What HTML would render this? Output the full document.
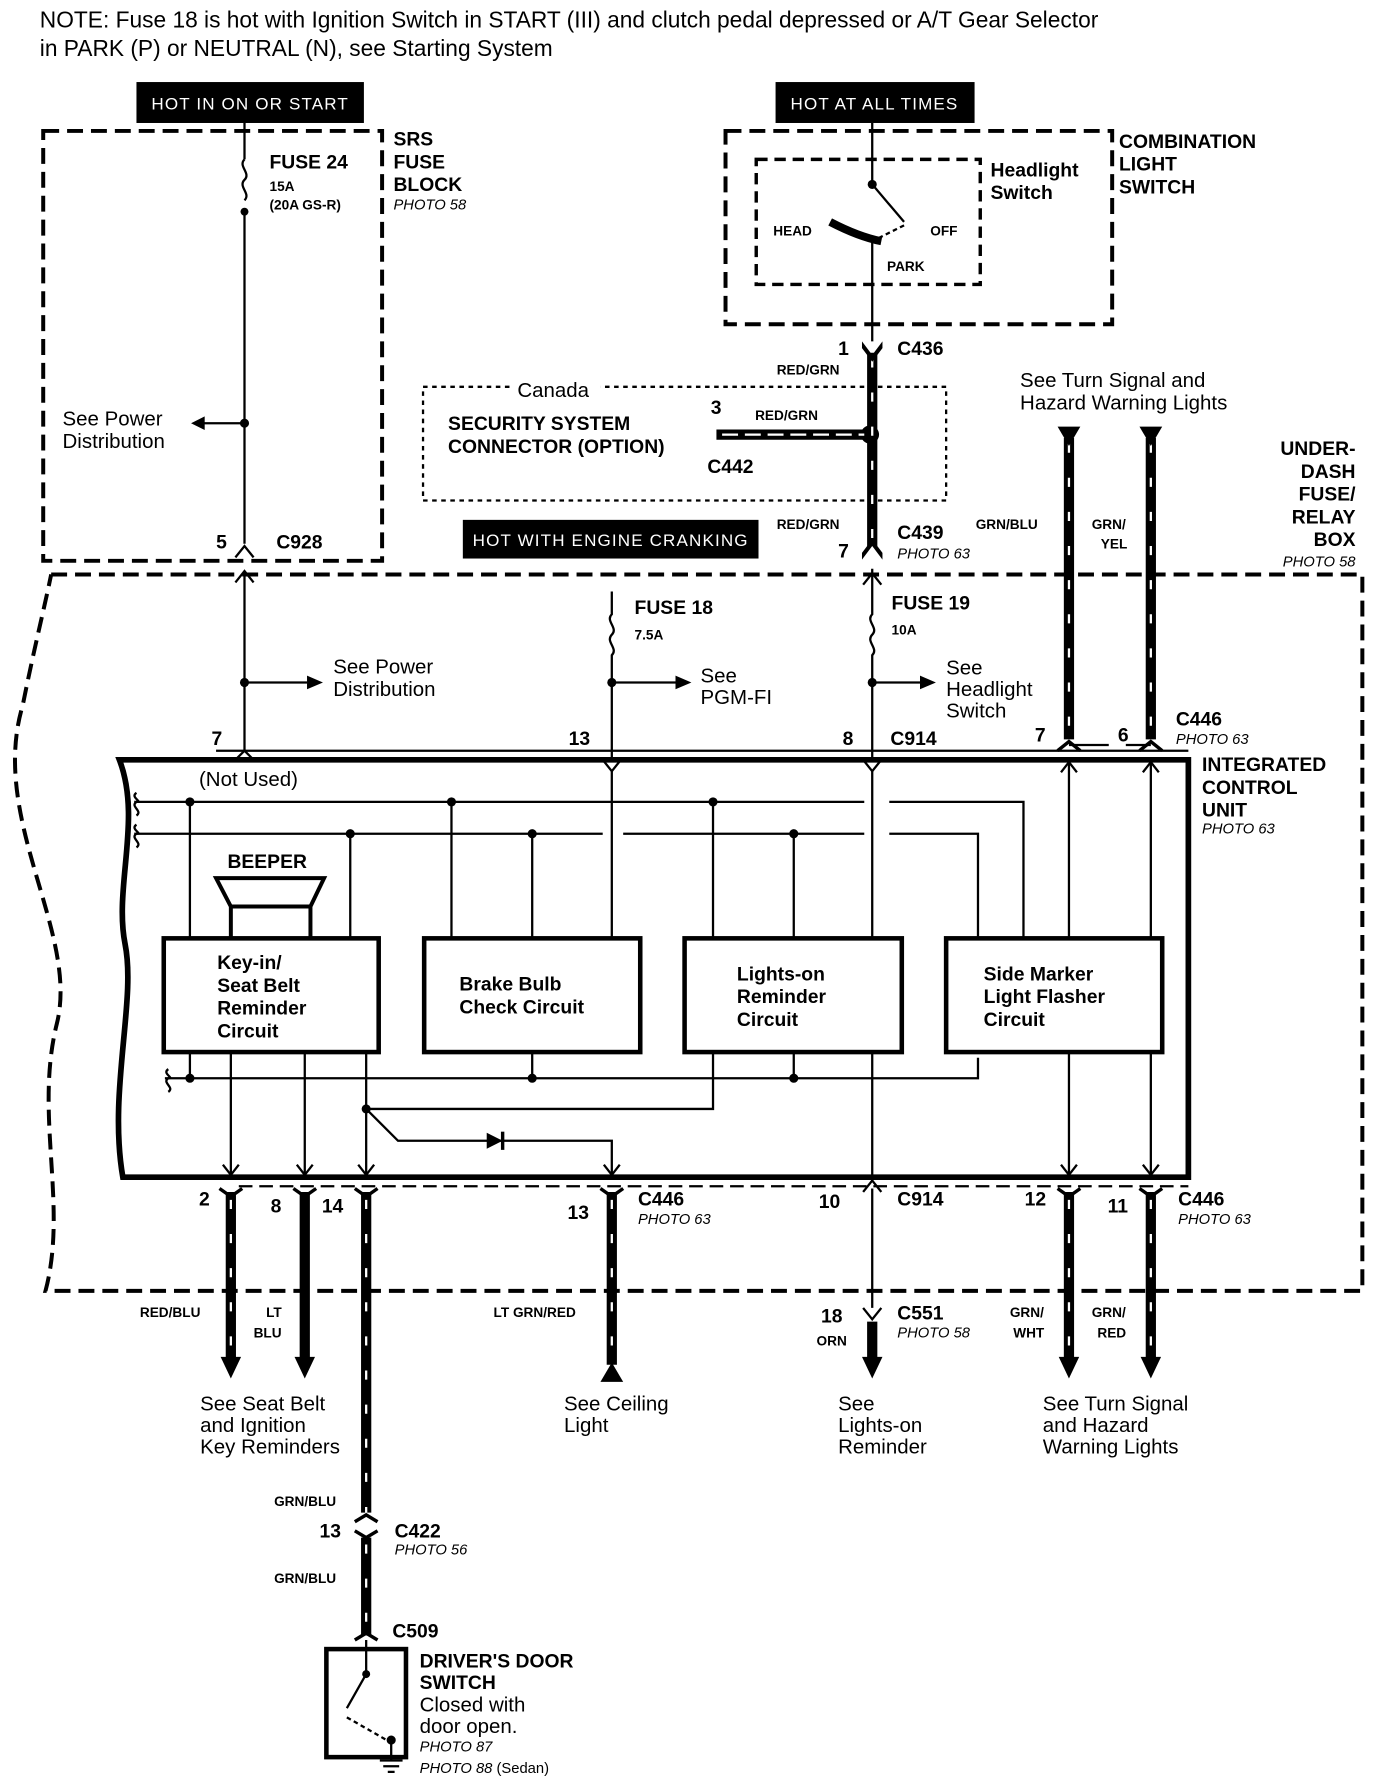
<!DOCTYPE html>
<html><head><meta charset="utf-8"><style>
html,body{margin:0;padding:0;background:#fff}
svg{display:block}
text{font-family:"Liberation Sans",Arial,sans-serif;fill:#000}
.b{font-weight:bold}
.i{font-style:italic}
</style></head><body>
<svg width="1376" height="1788" viewBox="0 0 1210 1572" xmlns="http://www.w3.org/2000/svg">
<g font-size="20">
<text x="35" y="24">NOTE: Fuse 18 is hot with Ignition Switch in START (III) and clutch pedal depressed or A/T Gear Selector</text>
<text x="35" y="49">in PARK (P) or NEUTRAL (N), see Starting System</text>
</g>
<!-- black labels -->
<rect x="120" y="72" width="200" height="36" fill="#000"/>
<text x="220" y="96" font-size="15" text-anchor="middle" style="fill:#fff;letter-spacing:1px">HOT IN ON OR START</text>
<rect x="682" y="72" width="175" height="36" fill="#000"/>
<text x="769" y="96" font-size="15" text-anchor="middle" style="fill:#fff;letter-spacing:1px">HOT AT ALL TIMES</text>
<rect x="407" y="457" width="260" height="34" fill="#000"/>
<text x="537" y="480" font-size="15" text-anchor="middle" style="fill:#fff;letter-spacing:1px">HOT WITH ENGINE CRANKING</text>

<g fill="none" stroke="#000">
<rect x="38" y="115" width="298" height="378" stroke-width="3.5" stroke-dasharray="14,7"/>
<rect x="638" y="115" width="340" height="170" stroke-width="3.5" stroke-dasharray="14,7"/>
<rect x="665" y="140" width="197" height="110" stroke-width="3" stroke-dasharray="10,6"/>
<rect x="372" y="340" width="460" height="100" stroke-width="2" stroke-dasharray="4,4"/>
<path d="M45,505 L1198,505 L1198,1135 L40,1135 C60,1060 30,980 50,900 C70,820 -10,720 20,620 C30,570 40,530 45,505" stroke-width="3.5" stroke-dasharray="14,7"/>
<path d="M1045,668 L105,668 C125,720 100,780 110,830 C120,880 95,960 108,1035 L1045,1035 Z" stroke-width="5"/>
<rect x="144" y="825" width="189" height="100" stroke-width="4"/>
<rect x="373" y="825" width="190" height="100" stroke-width="4"/>
<rect x="602" y="825" width="191" height="100" stroke-width="4"/>
<rect x="832" y="825" width="190" height="100" stroke-width="4"/>
<path d="M190,772 L285,772 L273,797 L203,797 Z M203,797 L203,825 M273,797 L273,825 M203,797 L273,797" stroke-width="3.5"/>
</g>
<rect x="450" y="334" width="78" height="14" fill="#fff"/>

<g fill="none" stroke="#000" stroke-width="2">
<path d="M215,108 V140"/>
<path d="M215,140 c-6,6 6,12 0,18 c-6,6 6,12 0,18" />
<path d="M215,186 V478"/>
<path d="M215,372 H178"/>
<path d="M207,490 L215,480 L223,490"/>
<path d="M767,108 V162 L795,195"/>
<path d="M795,198 L767,212" stroke-dasharray="4,3"/>
<path d="M767,212 V300"/>
<path d="M215,502 V660"/>
<path d="M207,512 L215,502 L223,512"/>
<path d="M215,600 H270"/>
<path d="M190,660 H1045"/>
<path d="M538,520 V540 c-6,6 6,12 0,18 c-6,6 6,12 0,18 V668"/>
<path d="M538,600 H596"/>
<path d="M767,500 V540 c-6,6 6,12 0,18 c-6,6 6,12 0,18 V668"/>
<path d="M767,600 H813"/>
<path d="M759,514 L767,504 L775,514"/>
<path d="M207,668 L215,660 L223,668 M530,668 L538,678 L546,668 M759,668 L767,678 L775,668"/>
<path d="M118,705 H760 M782,705 H900 V825"/>
<path d="M118,733 H530 M548,733 H760 M782,733 H860 V825"/>
<path d="M145,948 H860 V930"/>
<path d="M167,705 V825 M308,733 V825 M397,705 V825 M468,733 V825 M538,678 V825 M627,705 V825 M698,733 V825 M767,678 V825"/>
<path d="M167,925 V948 M468,925 V948 M698,925 V948"/>
<path d="M120,697 c-6,4 6,8 0,8 c-6,4 6,8 0,12 M120,725 c-6,4 6,8 0,8 c-6,4 6,8 0,12 M148,940 c-6,4 6,8 0,8 c-6,4 6,8 0,12"/>
<path d="M203,925 V1033 M268,925 V1033 M322,925 V1033"/>
<path d="M322,975 H627 V925"/>
<path d="M322,975 L350,1003 H538 V1033"/>
<path d="M767,925 V1038 M767,1045 V1150"/>
<path d="M759,1048 L767,1038 L775,1048 M759,1150 L767,1160 L775,1150"/>
<path d="M940,925 V1033 M1012,925 V1033"/>
<path d="M940,825 V670 M1012,825 V670"/>
<path d="M940,655 H975 M990,655 H1012"/>
<!-- chevrons down -->
<path d="M196,1024 L203,1033 L210,1024 M261,1024 L268,1033 L275,1024 M315,1024 L322,1033 L329,1024 M531,1024 L538,1033 L545,1024 M933,1024 L940,1033 L947,1024 M1005,1024 L1012,1033 L1019,1024"/>
<!-- chevrons up -->
<path d="M933,679 L940,670 L947,679 M1005,679 L1012,670 L1019,679"/>
</g>
<!-- arrowheads -->
<g fill="#000">
<path d="M168,372 L180,366 L180,378Z"/>
<path d="M284,600 L270,594 L270,606Z"/>
<path d="M608,600 L594,594 L594,606Z"/>
<path d="M823,600 L809,594 L809,606Z"/>
</g>
<path d="M428,996 L442,1003 L428,1010 Z" fill="#000"/>
<path d="M442,995 V1011" stroke="#000" stroke-width="3"/>
<path d="M730,195 Q755,208 775,212" stroke="#000" stroke-width="7" fill="none"/>
<g fill="#000">
<circle cx="215" cy="186" r="3.5"/><circle cx="215" cy="372" r="4"/><circle cx="215" cy="600" r="4"/>
<circle cx="538" cy="600" r="4"/><circle cx="767" cy="600" r="4"/><circle cx="767" cy="162" r="4"/>
<circle cx="167" cy="705" r="4"/><circle cx="397" cy="705" r="4"/><circle cx="627" cy="705" r="4"/>
<circle cx="308" cy="733" r="4"/><circle cx="468" cy="733" r="4"/><circle cx="698" cy="733" r="4"/>
<circle cx="167" cy="948" r="4"/><circle cx="468" cy="948" r="4"/><circle cx="698" cy="948" r="4"/>
<circle cx="322" cy="975" r="4"/><circle cx="765" cy="382" r="8"/>
</g>
<g stroke="#000" stroke-width="9" fill="none">
<path d="M767,310 V480"/><path d="M630,382 H760"/>
<path d="M940,385 V650"/><path d="M1012,385 V650"/>
<path d="M203,1048 V1195"/><path d="M268,1048 V1195"/><path d="M322,1048 V1330"/><path d="M322,1352 V1438"/>
<path d="M538,1048 V1200"/><path d="M767,1162 V1195"/><path d="M940,1048 V1195"/><path d="M1012,1048 V1195"/>
</g>
<g stroke="#fff" stroke-width="2" fill="none" stroke-dasharray="8,22">
<path d="M767,315 V480"/><path d="M635,382 H760" stroke-dasharray="14,6"/>
<path d="M940,390 V650"/><path d="M1012,390 V650"/>
<path d="M203,1055 V1190"/><path d="M322,1055 V1330"/><path d="M322,1358 V1438"/>
<path d="M538,1055 V1195"/><path d="M940,1055 V1190"/><path d="M1012,1055 V1190"/>
</g>
<g fill="#000">
<path d="M758,300 L767,312 L776,300 L776,306 L767,318 L758,306Z"/>
<path d="M758,492 L767,480 L776,492 L776,486 L767,474 L758,486Z"/>
<path d="M930,375 L950,375 L940,392Z"/><path d="M1002,375 L1022,375 L1012,392Z"/>
<path d="M194,1193 L212,1193 L203,1212Z"/><path d="M259,1193 L277,1193 L268,1212Z"/>
<path d="M758,1193 L776,1193 L767,1212Z"/><path d="M931,1193 L949,1193 L940,1212Z"/><path d="M1003,1193 L1021,1193 L1012,1212Z"/>
<path d="M528,1215 L548,1215 L538,1198Z"/>
<path d="M193,1045 L203,1052 L213,1045" stroke="#000" stroke-width="3" fill="none"/>
<path d="M258,1045 L268,1052 L278,1045" stroke="#000" stroke-width="3" fill="none"/>
<path d="M312,1045 L322,1052 L332,1045" stroke="#000" stroke-width="3" fill="none"/>
<path d="M528,1045 L538,1052 L548,1045" stroke="#000" stroke-width="3" fill="none"/>
<path d="M930,1045 L940,1052 L950,1045" stroke="#000" stroke-width="3" fill="none"/>
<path d="M1002,1045 L1012,1052 L1022,1045" stroke="#000" stroke-width="3" fill="none"/>
<path d="M930,660 L940,652 L950,660 M1002,660 L1012,652 L1022,660" stroke="#000" stroke-width="3" fill="none"/>
<path d="M312,1338 L322,1332 L332,1338 M312,1346 L322,1352 L332,1346" stroke="#000" stroke-width="3" fill="none"/>
<path d="M312,1442 L322,1436 L332,1442" stroke="#000" stroke-width="3" fill="none"/>
</g>
<path d="M210,1043 H1045" stroke="#000" stroke-width="2" stroke-dasharray="12,6" fill="none"/>
<rect x="287" y="1450" width="70" height="95" fill="none" stroke="#000" stroke-width="4"/>
<g stroke="#000" stroke-width="2" fill="none">
<path d="M322,1442 V1472 L305,1502"/><path d="M305,1510 L340,1530" stroke-dasharray="4,3"/>
<path d="M344,1530 V1548 M334,1548 H354 M337,1553 H351 M341,1558 H347"/>
</g>
<circle cx="322" cy="1472" r="3.5"/><circle cx="344" cy="1530" r="4"/>

<g class="b" font-size="17">
<text x="237" y="148">FUSE 24</text>
<text x="346" y="128">SRS</text><text x="346" y="148">FUSE</text><text x="346" y="168">BLOCK</text>
<text x="190" y="482">5</text><text x="243" y="482">C928</text>
<text x="984" y="130">COMBINATION</text><text x="984" y="150">LIGHT</text><text x="984" y="170">SWITCH</text>
<text x="871" y="155">Headlight</text><text x="871" y="175">Switch</text>
<text x="737" y="312">1</text><text x="789" y="312">C436</text>
<text x="625" y="364">3</text><text x="622" y="416">C442</text>
<text x="394" y="378">SECURITY SYSTEM</text><text x="394" y="398">CONNECTOR (OPTION)</text>
<text x="737" y="490">7</text><text x="789" y="474">C439</text>
<text x="1192" y="400" text-anchor="end">UNDER-</text><text x="1192" y="420" text-anchor="end">DASH</text>
<text x="1192" y="440" text-anchor="end">FUSE/</text><text x="1192" y="460" text-anchor="end">RELAY</text><text x="1192" y="480" text-anchor="end">BOX</text>
<text x="558" y="540">FUSE 18</text><text x="784" y="536">FUSE 19</text>
<text x="186" y="655">7</text><text x="500" y="655">13</text><text x="741" y="655">8</text><text x="783" y="655">C914</text>
<text x="910" y="652">7</text><text x="983" y="652">6</text><text x="1034" y="638">C446</text>
<text x="1057" y="678">INTEGRATED</text><text x="1057" y="698">CONTROL</text><text x="1057" y="718">UNIT</text>
<text x="200" y="763">BEEPER</text>
<text x="191" y="852">Key-in/</text><text x="191" y="872">Seat Belt</text><text x="191" y="892">Reminder</text><text x="191" y="912">Circuit</text>
<text x="404" y="871">Brake Bulb</text><text x="404" y="891">Check Circuit</text>
<text x="648" y="862">Lights-on</text><text x="648" y="882">Reminder</text><text x="648" y="902">Circuit</text>
<text x="865" y="862">Side Marker</text><text x="865" y="882">Light Flasher</text><text x="865" y="902">Circuit</text>
<text x="175" y="1060">2</text><text x="238" y="1066">8</text><text x="283" y="1066">14</text>
<text x="499" y="1072">13</text><text x="561" y="1060">C446</text>
<text x="720" y="1062">10</text><text x="789" y="1060">C914</text>
<text x="901" y="1060">12</text><text x="974" y="1066">11</text><text x="1036" y="1060">C446</text>
<text x="722" y="1163">18</text><text x="789" y="1160">C551</text>
<text x="281" y="1352">13</text><text x="347" y="1352">C422</text><text x="345" y="1440">C509</text>
<text x="369" y="1466">DRIVER'S DOOR</text><text x="369" y="1485">SWITCH</text>
</g>
<g class="b" font-size="12">
<text x="237" y="168">15A</text><text x="237" y="184">(20A GS-R)</text>
<text x="683" y="329">RED/GRN</text><text x="664" y="369">RED/GRN</text><text x="683" y="465">RED/GRN</text>
<text x="858" y="465">GRN/BLU</text><text x="960" y="465">GRN/</text><text x="968" y="482">YEL</text>
<text x="680" y="207">HEAD</text><text x="818" y="207">OFF</text><text x="780" y="238">PARK</text>
<text x="558" y="562">7.5A</text><text x="784" y="558">10A</text>
<text x="123" y="1158">RED/BLU</text><text x="234" y="1158">LT</text><text x="223" y="1176">BLU</text>
<text x="434" y="1158">LT GRN/RED</text><text x="718" y="1183">ORN</text>
<text x="888" y="1158">GRN/</text><text x="891" y="1176">WHT</text><text x="960" y="1158">GRN/</text><text x="965" y="1176">RED</text>
<text x="241" y="1324">GRN/BLU</text><text x="241" y="1392">GRN/BLU</text>
</g>
<g class="i" font-size="13">
<text x="346" y="184">PHOTO 58</text><text x="789" y="491">PHOTO 63</text><text x="1192" y="498" text-anchor="end">PHOTO 58</text>
<text x="1034" y="654">PHOTO 63</text><text x="1057" y="733">PHOTO 63</text>
<text x="561" y="1076">PHOTO 63</text><text x="1036" y="1076">PHOTO 63</text><text x="789" y="1176">PHOTO 58</text>
<text x="347" y="1367">PHOTO 56</text><text x="369" y="1540">PHOTO 87</text><text x="369" y="1559">PHOTO 88 <tspan style="font-style:normal">(Sedan)</tspan></text>
</g>
<g font-size="18">
<text x="55" y="374">See Power</text><text x="55" y="394">Distribution</text>
<text x="455" y="349">Canada</text>
<text x="897" y="340">See Turn Signal and</text><text x="897" y="360">Hazard Warning Lights</text>
<text x="293" y="592">See Power</text><text x="293" y="612">Distribution</text>
<text x="616" y="600">See</text><text x="616" y="619">PGM-FI</text>
<text x="832" y="593">See</text><text x="832" y="612">Headlight</text><text x="832" y="631">Switch</text>
<text x="175" y="691">(Not Used)</text>
<text x="176" y="1240">See Seat Belt</text><text x="176" y="1259">and Ignition</text><text x="176" y="1278">Key Reminders</text>
<text x="496" y="1240">See Ceiling</text><text x="496" y="1259">Light</text>
<text x="737" y="1240">See</text><text x="737" y="1259">Lights-on</text><text x="737" y="1278">Reminder</text>
<text x="917" y="1240">See Turn Signal</text><text x="917" y="1259">and Hazard</text><text x="917" y="1278">Warning Lights</text>
<text x="369" y="1505">Closed with</text><text x="369" y="1524">door open.</text>
</g>
</svg>
</body></html>
